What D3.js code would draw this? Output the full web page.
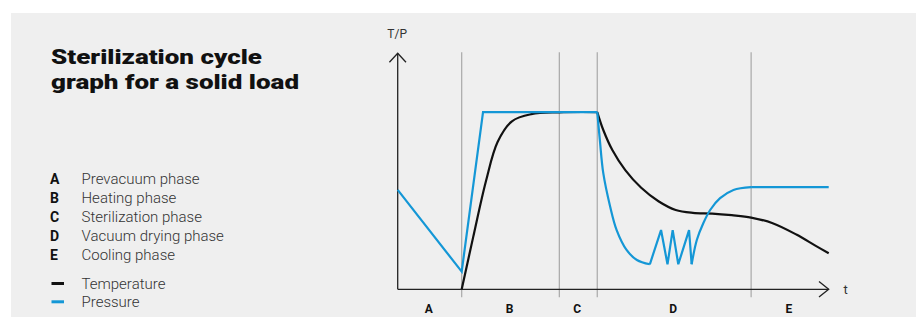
<!DOCTYPE html>
<html lang="en">
<head>
    <meta charset="UTF-8">
    <title>Sterilization cycle graph for a solid load</title>
    <script src="https://d3js.org/d3.v7.min.js"></script>
    <style>
        body { margin: 0; background: #fff; }
        svg { display: block; }
    </style>
</head>
<body>
    <script>
        const width = 920;
        const height = 317;

        // phases: boundaries on the t axis (0..100)
        const phaseKeys = ["A", "B", "C", "D", "E"];
        const phaseNames = ["Prevacuum phase", "Heating phase", "Sterilization phase", "Vacuum drying phase", "Cooling phase"];
        const phaseBounds = [0, 14.85, 37.5, 46.3, 82, 100];

        // temperature curve (t, value 0..100)
        const tempRise = [[14.85, 0], [17.5, 22], [20.5, 46], [23.2, 62.5], [26.5, 71.2], [31, 74.2], [37.5, 75], [46.3, 75.1]];
        const tempFall = [[46.3, 75.1], [47.7, 67.5], [49.8, 59], [52.8, 50.5], [56.5, 43], [60.5, 37.3], [64.5, 33.6], [68.5, 32.4], [73, 32.1], [77.5, 31.4], [82, 30.4], [87, 28], [92.5, 23.2], [97, 18.4], [100, 15.3]];

        // pressure curve
        const pressPrevac = [[0, 42.1], [14.85, 7.5], [19.8, 75.1], [46.3, 75.1]];
        const pressDrop = [[46.3, 75.1], [46.9, 63.3], [47.7, 49.2], [49.3, 35], [50.8, 25.1], [53.1, 16.7], [55.5, 12.4], [58.5, 10.6]];
        const pressPulses = [[58.5, 10.6], [61.1, 25.1], [62.6, 10.6], [63.8, 25.1], [65.1, 10.6], [67.6, 25.1], [68.2, 10.6]];
        const pressRecover = [[68.2, 10.6], [69.4, 20.9], [70.9, 28], [72.5, 33.6], [74.8, 38.6], [77.9, 42.1], [82, 43.3]];
        const pressHold = [[82, 43.3], [100, 43.3]];

        const blue = "#1497d6";
        const black = "#111";

        const svg = d3.select("body").append("svg")
            .attr("width", width)
            .attr("height", height);

        svg.append("rect")
            .attr("x", 11).attr("y", 13)
            .attr("width", 905).attr("height", height - 13)
            .attr("fill", "#efefef");

        // title, two lines
        [["Sterilization cycle", 63.5, 211], ["graph for a solid load", 88.5, 248]].forEach(([txt, yy, len]) => {
            svg.append("text")
                .attr("x", 51).attr("y", yy)
                .attr("font-family", "Roboto, sans-serif")
                .attr("font-weight", 900)
                .attr("font-size", 21)
                .attr("fill", "#111")
                .attr("textLength", len).attr("lengthAdjust", "spacingAndGlyphs")
                .text(txt);
        });

        // legend
        const legend = svg.append("g");
        phaseKeys.forEach((k, i) => {
            const yy = 183.5 + i * 19.2;
            legend.append("text")
                .attr("x", 50).attr("y", yy)
                .attr("font-family", "Roboto, sans-serif").attr("font-weight", 700)
                .attr("font-size", 14).attr("fill", "#111")
                .text(k);
            legend.append("text")
                .attr("x", 81.5).attr("y", yy)
                .attr("font-family", "Roboto, sans-serif").attr("font-weight", 300)
                .attr("font-size", 15).attr("fill", "#333")
                .text(phaseNames[i]);
        });
        [["Temperature", black], ["Pressure", blue]].forEach(([name, c], i) => {
            const yy = 288.5 + i * 18.3;
            legend.append("rect")
                .attr("x", 51.5).attr("y", yy - 6.5)
                .attr("width", 12.5).attr("height", 3)
                .attr("fill", c);
            legend.append("text")
                .attr("x", 81.5).attr("y", yy)
                .attr("font-family", "Roboto, sans-serif").attr("font-weight", 300)
                .attr("font-size", 15).attr("fill", "#333")
                .text(name);
        });

        // chart
        const x = d3.scaleLinear().domain([0, 100]).range([397.7, 828.7]);
        const y = d3.scaleLinear().domain([0, 100]).range([289.3, 53.3]);

        // phase separators
        svg.append("g").selectAll("line")
            .data(phaseBounds.slice(1, -1))
            .join("line")
            .attr("x1", d => x(d)).attr("x2", d => x(d))
            .attr("y1", y(100) - 1).attr("y2", y(0) + 8)
            .attr("stroke", "#a8a8a8").attr("stroke-width", 1.2);

        // axes
        const axis = svg.append("g")
            .attr("stroke", "#222").attr("stroke-width", 1.3).attr("fill", "none");
        axis.append("line")
            .attr("x1", x(0)).attr("x2", x(0))
            .attr("y1", y(0)).attr("y2", y(100));
        axis.append("line")
            .attr("x1", x(0)).attr("x2", x(100))
            .attr("y1", y(0)).attr("y2", y(0));
        axis.append("path")
            .attr("d", `M${x(0) - 8.3},${y(100) + 9}L${x(0)},${y(100)}L${x(0) + 8.3},${y(100) + 9}`);
        axis.append("path")
            .attr("d", `M${x(100) - 9.7},${y(0) - 7.8}L${x(100)},${y(0)}L${x(100) - 9.7},${y(0) + 7.8}`);

        svg.append("text")
            .attr("x", x(0) - 0.5).attr("y", 38.3)
            .attr("text-anchor", "middle")
            .attr("font-family", "Roboto, sans-serif").attr("font-size", 12)
            .attr("fill", "#333")
            .text("T/P");
        svg.append("text")
            .attr("x", 843.5).attr("y", 293.5)
            .attr("font-family", "Roboto, sans-serif").attr("font-size", 13)
            .attr("fill", "#333")
            .text("t");

        // phase letters under the axis
        svg.append("g").selectAll("text")
            .data(phaseKeys)
            .join("text")
            .attr("x", (d, i) => (x(phaseBounds[i]) + x(phaseBounds[i + 1])) / 2 - 1)
            .attr("y", 312.7)
            .attr("text-anchor", "middle")
            .attr("font-family", "Roboto, sans-serif").attr("font-weight", 700)
            .attr("font-size", 12).attr("fill", "#111")
            .text(d => d);

        const lineLin = d3.line().x(d => x(d[0])).y(d => y(d[1]));
        const lineSmooth = d3.line().x(d => x(d[0])).y(d => y(d[1])).curve(d3.curveCatmullRom.alpha(0.5));

        const curves = svg.append("g")
            .attr("fill", "none").attr("stroke-width", 2.2)
            .attr("stroke-linejoin", "miter");

        curves.append("path").attr("d", lineSmooth(tempRise)).attr("stroke", black);
        curves.append("path").attr("d", lineSmooth(tempFall)).attr("stroke", black);

        curves.append("path").attr("d", lineLin(pressPrevac)).attr("stroke", blue);
        curves.append("path").attr("d", lineSmooth(pressDrop)).attr("stroke", blue);
        curves.append("path").attr("d", lineLin(pressPulses)).attr("stroke", blue);
        curves.append("path").attr("d", lineSmooth(pressRecover)).attr("stroke", blue);
        curves.append("path").attr("d", lineLin(pressHold)).attr("stroke", blue);
    </script>
</body>
</html>
